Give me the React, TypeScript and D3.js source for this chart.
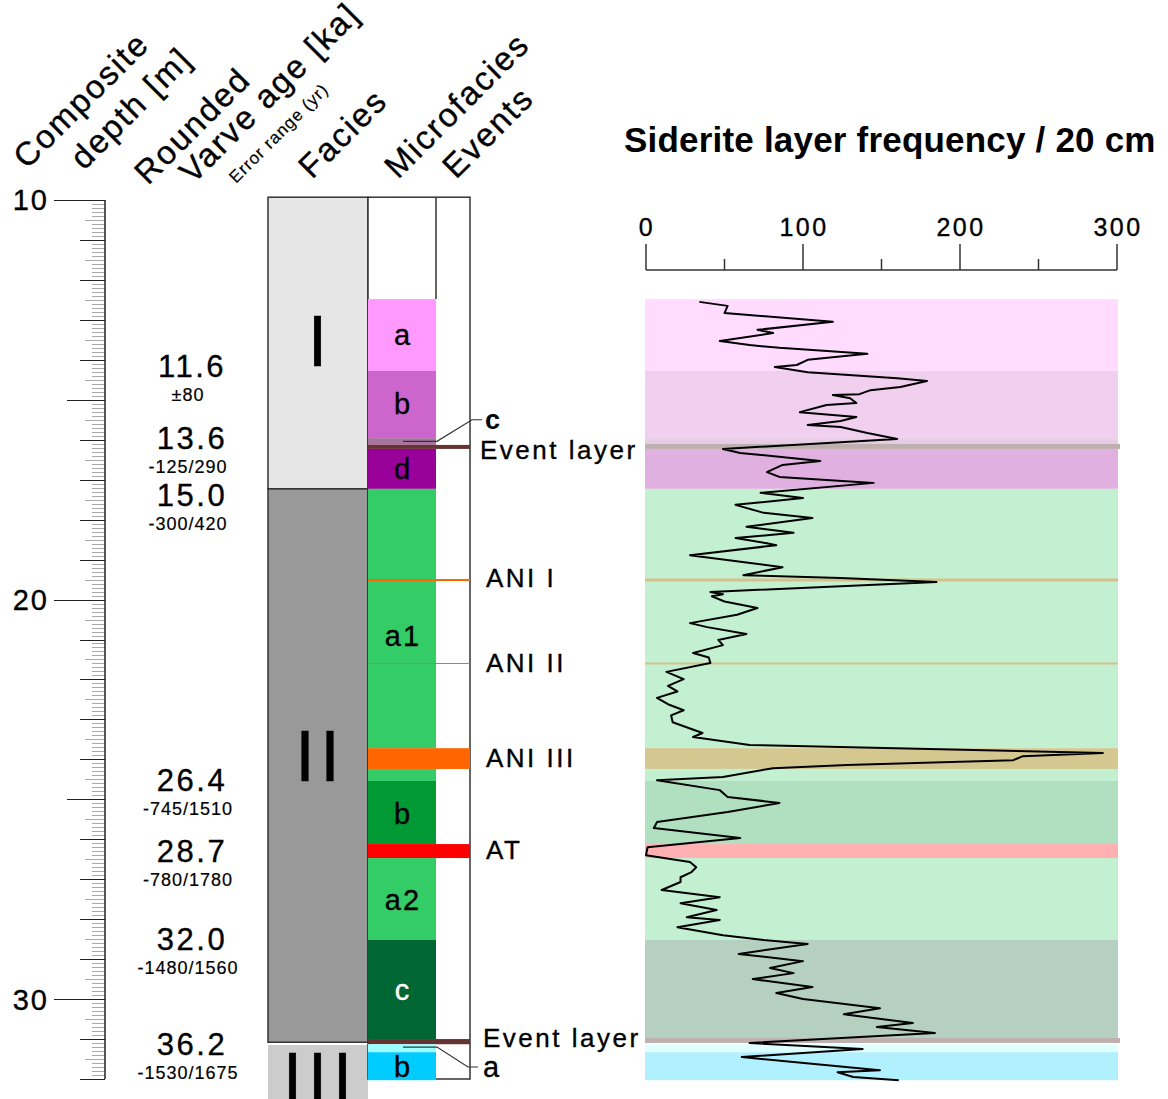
import React from 'react';
import * as d3 from 'd3';

const W = 1168;
const H = 1099;
const FONT = '"Liberation Sans", Arial, sans-serif';

// microfacies units, depth in m
const unitTop = [12.48, 14.28, 15.96, 16.13, 16.23, 17.23, 23.72, 24.24, 24.54, 26.12, 26.47, 28.52, 31.0, 31.13, 31.33];
const unitBase = [14.28, 15.96, 16.13, 16.23, 17.23, 23.72, 24.24, 24.54, 26.12, 26.47, 28.52, 31.0, 31.13, 31.33, 32.03];
const unitFill = ['#ff99ff', '#cc66cc', '#a8739f', '#663333', '#990099', '#33cc66', '#ff6600', '#33cc66', '#009933', '#ff0000', '#33cc66', '#006633', '#663333', '#99ffff', '#00ccff'];
const unitShade = ['#ffdcff', '#f0d0ee', '#e8cde6', '#e0b0e0', '#e0b0e0', '#c2f0d0', '#d4c890', '#c2f0d0', '#b0e0c0', '#ffb0b0', '#c2f0d0', '#b5d0c0', '#b5d0c0', '#e0ffff', '#b0f0ff'];
const unitIsEvent = [false, false, false, true, false, false, true, false, false, true, false, false, true, false, false];

const mfLabels = ['a', 'b', 'd', 'a1', 'b', 'a2', 'c', 'b'];
const mfLabelDepth = [13.38, 15.1, 16.73, 20.9, 25.35, 27.5, 29.75, 31.7];
const mfLabelColor = ['#000', '#000', '#000', '#000', '#000', '#000', '#fff', '#000'];

// facies
const faciesNames = ['I', 'II', 'III'];
const faciesTop = [9.93, 17.23, 31.15];
const faciesBase = [17.23, 31.08, 32.6];
const faciesFill = ['#e6e6e6', '#999999', '#cccccc'];
const faciesLabelDepth = [13.5, 23.9, 31.95];

// thin event markers
const thinEvents = ['ANI I', 'ANI II'];
const thinEventDepth = [19.51, 21.6];
const thinEventWidth = [2, 1];

// event labels
const eventLabels = ['Event layer', 'ANI I', 'ANI II', 'ANI III', 'AT', 'Event layer'];
const eventLabelDepth = [16.26, 19.46, 21.58, 23.95, 26.27, 30.97];
const eventLabelX = [480, 486, 486, 486, 486, 483];

// rounded varve ages
const ages = ['11.6', '13.6', '15.0', '26.4', '28.7', '32.0', '36.2'];
const ageErrors = ['\u00b180', '-125/290', '-300/420', '-745/1510', '-780/1780', '-1480/1560', '-1530/1675'];
const ageDepth = [14.43, 16.23, 17.66, 24.79, 26.57, 28.77, 31.4];

// siderite layer frequency per 20 cm
const sidDepth = [
  12.55, 12.65, 12.83, 13.05, 13.25, 13.33, 13.53, 13.63, 13.7, 13.85,
  14.0, 14.13, 14.18, 14.31, 14.46, 14.53, 14.68, 14.76, 14.86, 14.88,
  14.96, 15.08, 15.13, 15.31, 15.43, 15.53, 15.63, 15.68, 15.83, 15.98,
  16.23, 16.33, 16.53, 16.63, 16.81, 16.93, 17.08, 17.33, 17.46, 17.63,
  17.83, 17.96, 18.18, 18.33, 18.46, 18.59, 18.64, 18.89, 19.19, 19.39,
  19.46, 19.56, 19.81, 19.87, 19.92, 20.05, 20.21, 20.38, 20.59, 20.69,
  20.86, 21.01, 21.14, 21.34, 21.45, 21.59, 21.81, 21.99, 22.16, 22.3,
  22.46, 22.62, 22.77, 22.9, 23.07, 23.34, 23.44, 23.64, 23.84, 23.92,
  24.02, 24.14, 24.22, 24.44, 24.52, 24.77, 24.94, 25.09, 25.32, 25.57,
  25.72, 25.97, 26.2, 26.4, 26.57, 26.7, 26.82, 26.95, 27.07, 27.27,
  27.45, 27.6, 27.77, 27.95, 28.02, 28.2, 28.4, 28.52, 28.62, 28.87,
  29.05, 29.22, 29.35, 29.5, 29.7, 29.85, 30.0, 30.23, 30.38, 30.6,
  30.7, 30.85, 31.1, 31.25, 31.45, 31.78, 31.83, 31.95, 32.03,
];
const sidValue = [
  34, 52, 50, 119, 71, 81, 47, 66, 85, 141,
  103, 96, 82, 103, 160, 179, 162, 143, 136, 119,
  130, 134, 115, 98, 134, 124, 103, 124, 141, 160,
  49, 60, 111, 87, 77, 85, 145, 73, 100, 57,
  75, 106, 64, 94, 57, 77, 83, 28, 87, 62,
  124, 185, 41, 49, 42, 50, 71, 58, 28, 39,
  64, 46, 49, 30, 40, 41, 13, 24, 14, 20,
  7, 14, 24, 16, 17, 36, 30, 66, 291, 240,
  234, 128, 81, 49, 7, 47, 52, 85, 52, 7,
  5, 60, 1, 0, 28, 32, 29, 22, 22, 10,
  47, 22, 45, 26, 47, 20, 49, 75, 103, 59,
  100, 79, 94, 68, 106, 83, 100, 149, 126, 170,
  147, 184, 66, 138, 61, 149, 122, 132, 161,
];

const xTicks = [0, 100, 200, 300];
const xMinor = [50, 150, 250];
const depthLabels = [10, 20, 30];

export default function App() {
  const y = d3.scaleLinear().domain([10, 32]).range([200, 1079]);
  const x = d3.scaleLinear().domain([0, 300]).range([646, 1117]);

  const faciesX0 = 268, faciesX1 = 368, mfX1 = 436, evX1 = 470;
  const plotX0 = 645, plotX1 = 1118;

  const ruler = d3.range(100, 321).map((i) => i / 10);
  const line = d3.line<number>().x((_, i) => x(sidValue[i])).y((d) => y(d));
  const ts = { stroke: '#000', strokeWidth: 0.35 };

  return (
    <svg width={W} height={H} style={{ position: 'absolute', left: 0, top: 0, background: '#fff' }} fontFamily={FONT}>
      {/* headers */}
      <g fontSize={33} fill="#000" letterSpacing={2} {...ts}>
        <text transform="translate(27,170) rotate(-45)">Composite</text>
        <text transform="translate(84,171) rotate(-45)">depth [m]</text>
        <text transform="translate(148,186) rotate(-45)">Rounded</text>
        <text transform="translate(193,185) rotate(-45)">Varve age [ka]</text>
        <text transform="translate(236,184) rotate(-45)" fontSize={17} letterSpacing={1} strokeWidth={0.2}>Error range (yr)</text>
        <text transform="translate(312,180) rotate(-45)">Facies</text>
        <text transform="translate(398,180) rotate(-45)">Microfacies</text>
        <text transform="translate(456,180) rotate(-45)">Events</text>
      </g>

      {/* depth ruler */}
      <g>
        {ruler.map((d, i) => {
          const k = Math.round(d * 10);
          let x0 = 92, col = '#aaa';
          if (k % 100 === 0) { x0 = 54; col = '#222'; }
          else if (k % 50 === 0) { x0 = 67; col = '#222'; }
          else if (k % 10 === 0) { x0 = 80; col = '#222'; }
          else if (k % 5 === 0) { x0 = 85; }
          const yy = Math.round(y(d)) + 0.5;
          return <line key={i} x1={x0} x2={105} y1={yy} y2={yy} stroke={col} strokeWidth={1} />;
        })}
        <line x1={105} x2={105} y1={y(10)} y2={y(32)} stroke="#222" strokeWidth={1.5} />
        {depthLabels.map((d) => (
          <text key={d} x={49} y={y(d)} dy="0.36em" textAnchor="end" fontSize={29} letterSpacing={2} {...ts}>{d}</text>
        ))}
      </g>

      {/* ages */}
      <g textAnchor="middle" {...ts}>
        {ages.map((a, i) => (
          <g key={i}>
            <text x={192} y={y(ageDepth[i])} fontSize={31} letterSpacing={2.5}>{a}</text>
            <text x={188} y={y(ageDepth[i]) + 24} fontSize={18} letterSpacing={1} strokeWidth={0.2}>{ageErrors[i]}</text>
          </g>
        ))}
      </g>

      {/* facies column */}
      {faciesNames.map((f, i) => (
        <g key={f}>
          <rect x={faciesX0} y={y(faciesTop[i])} width={faciesX1 - faciesX0}
            height={Math.min(y(faciesBase[i]), H) - y(faciesTop[i])} fill={faciesFill[i]}
            stroke={i < 2 ? '#333' : 'none'} strokeWidth={1.5} />
          <text x={(faciesX0 + faciesX1) / 2 + 2} y={y(faciesLabelDepth[i])} dy="0.36em" textAnchor="middle"
            fontSize={72} letterSpacing={5} {...ts}>{f}</text>
        </g>
      ))}

      {/* microfacies / events frame */}
      <rect x={faciesX1} y={y(9.93)} width={evX1 - faciesX1} height={y(32.0) - y(9.93)} fill="#fff" stroke="#333" strokeWidth={1.5} />
      <line x1={mfX1} x2={mfX1} y1={y(9.93)} y2={y(unitTop[0])} stroke="#333" strokeWidth={1.5} />
      {unitTop.map((t, i) => (
        <rect key={i} x={faciesX1} y={y(t)} width={(unitIsEvent[i] ? evX1 : mfX1) - faciesX1}
          height={y(unitBase[i]) - y(t)} fill={unitFill[i]} />
      ))}
      {thinEvents.map((e, i) => (
        <line key={e} x1={faciesX1} x2={evX1} y1={y(thinEventDepth[i])} y2={y(thinEventDepth[i])}
          stroke="#ff6600" strokeWidth={thinEventWidth[i]} />
      ))}
      {mfLabels.map((l, i) => (
        <text key={i} x={(faciesX1 + mfX1) / 2 + 1} y={y(mfLabelDepth[i])} dy="0.36em" textAnchor="middle"
          fontSize={29} letterSpacing={2} fill={mfLabelColor[i]} stroke={mfLabelColor[i]} strokeWidth={0.35}>{l}</text>
      ))}

      {/* callouts */}
      <polyline points={`403,${y(16.04)} 437,${y(16.04)} 472,${y(15.5)} 482,${y(15.5)}`} fill="none" stroke="#333" strokeWidth={1.2} />
      <text x={485} y={y(15.5)} dy="0.36em" fontSize={27} fontWeight="bold">c</text>
      <polyline points={`403,${y(31.2)} 437,${y(31.2)} 468,${y(31.7)} 478,${y(31.7)}`} fill="none" stroke="#333" strokeWidth={1.2} />
      <text x={483} y={y(31.7)} dy="0.36em" fontSize={29} {...ts}>a</text>

      {eventLabels.map((l, i) => (
        <text key={i} x={eventLabelX[i]} y={y(eventLabelDepth[i])} dy="0.36em" fontSize={26} letterSpacing={2.5} {...ts}>{l}</text>
      ))}

      {/* siderite panel */}
      <text x={624} y={152} fontSize={35} fontWeight="bold" letterSpacing={0.2}>Siderite layer frequency / 20 cm</text>
      <g>
        <line x1={x(0)} x2={x(300)} y1={270} y2={270} stroke="#333" strokeWidth={1.5} />
        {xTicks.map((t) => (
          <g key={t}>
            <line x1={x(t)} x2={x(t)} y1={244} y2={270} stroke="#333" strokeWidth={1.5} />
            <text x={x(t) + 1} y={236} textAnchor="middle" fontSize={25} letterSpacing={2.5} {...ts}>{t}</text>
          </g>
        ))}
        {xMinor.map((t) => (
          <line key={t} x1={x(t)} x2={x(t)} y1={259} y2={270} stroke="#333" strokeWidth={1.5} />
        ))}
      </g>
      {unitTop.map((t, i) => (
        <rect key={i} x={plotX0} y={y(t)} width={plotX1 - plotX0} height={y(unitBase[i]) - y(t)}
          fill={unitIsEvent[i] && unitFill[i] === '#663333' ? '#fff' : unitShade[i]} />
      ))}
      {unitTop.map((t, i) => unitIsEvent[i] && unitFill[i] === '#663333' ? (
        <rect key={'e' + i} x={plotX0} y={y(t) - 1} width={plotX1 + 2 - plotX0} height={5} fill="#bfb0b0" />
      ) : null)}
      {thinEvents.map((e, i) => (
        <line key={e} x1={plotX0} x2={plotX1} y1={y(thinEventDepth[i])} y2={y(thinEventDepth[i])}
          stroke="#d8c08a" strokeWidth={thinEventWidth[i] + 1} />
      ))}
      <path d={line(sidDepth) || ''} fill="none" stroke="#000" strokeWidth={2} strokeLinejoin="round" />
    </svg>
  );
}
